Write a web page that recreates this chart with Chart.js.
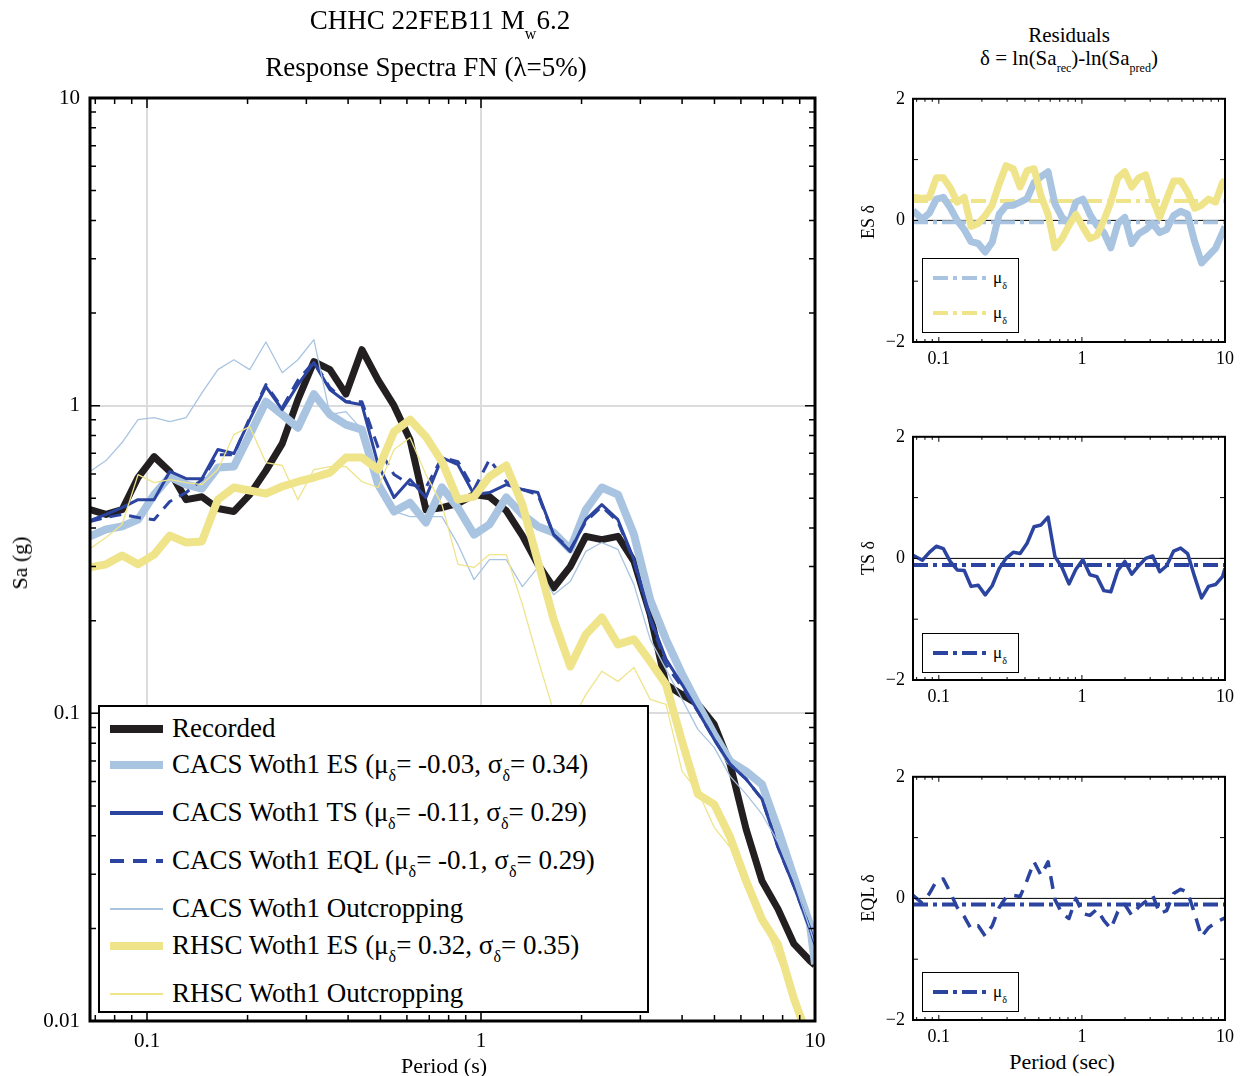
<!DOCTYPE html>
<html><head><meta charset="utf-8">
<script src="https://cdn.jsdelivr.net/npm/chart.js@4.4.1/dist/chart.umd.min.js"></script>
<style>
html,body{margin:0;padding:0;background:#fff;}
body{width:1242px;height:1076px;position:relative;overflow:hidden;font-family:'Liberation Serif','Times New Roman',serif;color:#000;}
.t{position:absolute;white-space:nowrap;line-height:1;}
.c{transform:translateX(-50%);}
.r{transform:translate(-50%,-50%) rotate(-90deg);}
.sb{position:relative;}
canvas{position:absolute;}
.box{position:absolute;box-sizing:border-box;background:#fff;}
.sw{position:absolute;}
</style></head>
<body>
<canvas id="main" width="840" height="1076" style="left:0;top:0"></canvas>
<canvas id="r1" width="400" height="290" style="left:840px;top:80px"></canvas>
<canvas id="r2" width="400" height="290" style="left:840px;top:418px"></canvas>
<canvas id="r3" width="400" height="290" style="left:840px;top:758px"></canvas>
<div id="overlay"></div>
<script>
// ---------------- DATA ----------------
const periods = [0.0675,0.0754,0.0842,0.094,0.105,0.117,0.131,0.146,0.163,0.182,0.203,0.227,0.254,0.283,0.316,0.353,0.394,0.44,0.492,0.549,0.613,0.684,0.764,0.853,0.953,1.06,1.19,1.33,1.48,1.65,1.85,2.06,2.30,2.57,2.87,3.21,3.58,4.00,4.46,4.99,5.57,6.22,6.94,7.75,8.65,9.66,10.0];
const recorded = [0.459,0.443,0.459,0.584,0.683,0.611,0.495,0.506,0.463,0.453,0.514,0.615,0.753,1.046,1.39,1.31,1.09,1.52,1.21,1.0,0.775,0.459,0.466,0.481,0.514,0.506,0.456,0.378,0.305,0.256,0.300,0.376,0.367,0.376,0.312,0.210,0.124,0.115,0.107,0.0921,0.0683,0.0420,0.0285,0.0231,0.0178,0.0157,0.0152];
const cacsES = [0.376,0.396,0.405,0.426,0.514,0.588,0.554,0.538,0.629,0.634,0.805,1.03,0.935,0.848,1.09,0.935,0.868,0.836,0.554,0.453,0.484,0.417,0.542,0.466,0.381,0.411,0.503,0.443,0.405,0.387,0.341,0.459,0.542,0.514,0.381,0.234,0.174,0.134,0.107,0.0855,0.0698,0.0648,0.0588,0.0420,0.0293,0.0206,0.0153];
const cacsTS = [0.423,0.443,0.466,0.495,0.495,0.611,0.579,0.579,0.720,0.699,0.901,1.153,0.971,1.17,1.38,1.127,1.03,1.007,0.643,0.503,0.575,0.503,0.678,0.643,0.514,0.522,0.554,0.534,0.522,0.381,0.336,0.426,0.477,0.426,0.316,0.205,0.150,0.124,0.1015,0.0823,0.0683,0.0611,0.0526,0.0367,0.0274,0.0199,0.0178];
const cacsEQL = [0.420,0.433,0.443,0.433,0.426,0.488,0.522,0.575,0.693,0.693,0.914,1.17,0.985,1.21,1.39,1.144,1.03,1.03,0.731,0.597,0.554,0.542,0.678,0.658,0.534,0.668,0.566,0.534,0.514,0.381,0.341,0.420,0.470,0.420,0.312,0.202,0.144,0.1215,0.1015,0.0823,0.0683,0.0611,0.0526,0.0367,0.0274,0.0199,0.0178];
const cacsOut = [0.611,0.663,0.759,0.901,0.914,0.887,0.914,1.10,1.31,1.41,1.31,1.61,1.28,1.41,1.64,0.935,0.956,0.836,0.534,0.453,0.436,0.436,0.436,0.354,0.272,0.316,0.316,0.258,0.298,0.243,0.268,0.336,0.359,0.341,0.262,0.174,0.139,0.111,0.0887,0.0775,0.0624,0.0546,0.0470,0.0381,0.0285,0.0199,0.0178];
const rhscES = [0.298,0.305,0.326,0.305,0.328,0.378,0.359,0.362,0.495,0.542,0.530,0.518,0.546,0.566,0.584,0.606,0.678,0.678,0.620,0.823,0.901,0.793,0.658,0.495,0.506,0.588,0.639,0.477,0.312,0.202,0.142,0.1805,0.205,0.1675,0.174,0.1475,0.124,0.081,0.0546,0.0506,0.0396,0.0285,0.0214,0.0177,0.0118,0.0085,null];
const rhscOut = [0.343,0.373,0.411,0.597,0.562,0.575,0.562,0.554,0.620,0.805,0.855,0.653,0.639,0.495,0.620,0.634,0.634,0.566,0.542,0.720,0.787,0.597,0.477,0.305,0.298,0.328,0.328,0.226,0.150,0.1015,0.0921,0.115,0.137,0.127,0.141,0.111,0.107,0.0648,0.0558,0.0426,0.0367,0.0268,0.0218,0.0159,0.0122,0.0085,null];

const residPeriods = [0.066,0.0767,0.0859,0.096,0.1075,0.120,0.1345,0.1506,0.168,0.1885,0.211,0.236,0.264,0.295,0.331,0.370,0.414,0.463,0.518,0.580,0.648,0.726,0.812,0.908,1.016,1.137,1.272,1.423,1.592,1.782,1.994,2.231,2.496,2.793,3.125,3.496,3.911,4.377,4.897,5.479,6.131,6.859,7.674,8.587,9.607,10.0];
const residCacsES = [0.16,0.02,0.12,0.35,0.38,0.21,0.0,-0.15,-0.35,-0.38,-0.52,-0.36,0.1,0.24,0.25,0.3,0.36,0.62,0.72,0.8,0.27,0.05,-0.05,0.3,0.35,0.1,-0.08,-0.2,-0.45,-0.05,0.05,-0.38,-0.22,-0.15,-0.05,-0.2,-0.15,0.08,0.15,0.1,-0.35,-0.7,-0.58,-0.46,-0.2,-0.1];
const residRhscES = [0.38,0.36,0.38,0.7,0.7,0.54,0.3,0.38,-0.1,-0.05,0.08,0.25,0.6,0.9,0.85,0.55,0.82,0.85,0.4,0.1,-0.45,-0.3,-0.08,0.1,-0.11,-0.3,-0.25,0.0,0.3,0.7,0.8,0.55,0.7,0.75,0.35,0.05,0.35,0.65,0.65,0.47,0.2,0.25,0.35,0.3,0.62,0.66];
const residCacsTS = [0.05,-0.03,0.1,0.2,0.16,-0.05,-0.19,-0.2,-0.46,-0.44,-0.6,-0.45,-0.17,0.0,0.1,0.08,0.25,0.52,0.55,0.68,0.03,-0.15,-0.42,-0.18,-0.02,-0.27,-0.3,-0.53,-0.55,-0.2,-0.05,-0.26,-0.12,0.0,0.04,-0.22,-0.12,0.12,0.17,0.08,-0.3,-0.65,-0.46,-0.43,-0.3,-0.16];
const residCacsEQL = [0.05,-0.08,0.08,0.28,0.32,0.1,-0.15,-0.3,-0.5,-0.45,-0.62,-0.45,-0.15,0.02,0.05,0.03,0.3,0.6,0.38,0.6,-0.02,-0.25,-0.33,0.0,-0.25,-0.28,-0.18,-0.36,-0.5,-0.22,-0.1,-0.28,-0.14,-0.05,0.05,-0.25,-0.2,0.08,0.15,0.1,-0.25,-0.63,-0.48,-0.4,-0.34,-0.32];
const meanCacsES = -0.03, meanRhscES = 0.32, meanCacsTS = -0.11, meanCacsEQL = -0.1;

const mainXTicks = [0.1, 1, 10];
const mainYTicks = [0.01, 0.1, 1, 10];
const residXTicks = [0.1, 1, 10];
const residYTicks = [-2, 0, 2];

// ---------------- STYLE ----------------
const BLACK = '#231F20', LBLUE = '#A9C4E1', DBLUE = '#2B44A0', YELLOW = '#EFE48A';
const FONT = "'Liberation Serif','Times New Roman',serif";

function pts(xs, ys){ return xs.map((x,i)=>({x:x, y:ys[i]})); }
function flat(xmin, xmax, v){ return [{x:xmin,y:v},{x:xmax,y:v}]; }
function minors(lo, hi){
  const out=[]; for(let d=0.001; d<hi; d*=10){ for(let k=2;k<=9;k++){ const v=+(k*d).toPrecision(3); if(v>lo && v<hi) out.push(v);} } return out;
}
function boxPlugin(cfg){
  return { id:'box'+Math.random().toString(36).slice(2),
    afterDatasetsDraw(chart){
      const {ctx, chartArea:a} = chart; const xs=chart.scales.x, ys=chart.scales.y;
      ctx.save(); ctx.strokeStyle='#000'; ctx.lineWidth=cfg.tickW; ctx.beginPath();
      const vx=(vals,len)=>vals.forEach(v=>{ if(v<=xs.min||v>=xs.max) return; const p=xs.getPixelForValue(v);
        ctx.moveTo(p,a.bottom); ctx.lineTo(p,a.bottom-len); ctx.moveTo(p,a.top); ctx.lineTo(p,a.top+len); });
      const vy=(vals,len)=>vals.forEach(v=>{ if(v<=ys.min||v>=ys.max) return; const p=ys.getPixelForValue(v);
        ctx.moveTo(a.left,p); ctx.lineTo(a.left+len,p); ctx.moveTo(a.right,p); ctx.lineTo(a.right-len,p); });
      vx(cfg.xMinor, cfg.minorLen); vx(cfg.xMajor, cfg.majorLen);
      vy(cfg.yMinor, cfg.minorLen); vy(cfg.yMajor, cfg.majorLen);
      ctx.stroke();
      ctx.lineWidth=cfg.frameW; ctx.strokeRect(a.left,a.top,a.right-a.left,a.bottom-a.top);
      ctx.restore();
    }};
}
function line(data, color, width, extra){ return Object.assign({data, borderColor:color, backgroundColor:color, borderWidth:width, pointRadius:0, tension:0, fill:false, borderJoinStyle:'round', clip:0, spanGaps:false}, extra||{}); }

// ---------------- MAIN CHART ----------------
new Chart(document.getElementById('main'), {
  type:'line',
  data:{datasets:[
    line(pts(periods, recorded), BLACK, 7, {order:7}),
    line(pts(periods, cacsES), LBLUE, 8, {order:6}),
    line(pts(periods, cacsTS), DBLUE, 3, {order:5}),
    line(pts(periods, cacsEQL), DBLUE, 3, {order:4, borderDash:[12,8]}),
    line(pts(periods, cacsOut), LBLUE, 1.3, {order:3}),
    line(pts(periods, rhscES), YELLOW, 8, {order:2}),
    line(pts(periods, rhscOut), YELLOW, 1.3, {order:1})
  ]},
  options:{
    responsive:false, animation:false, devicePixelRatio:1,
    layout:{padding:{left:0, top:98, right:25, bottom:0}},
    plugins:{legend:{display:false}, tooltip:{enabled:false}, title:{display:false}},
    scales:{
      x:{type:'logarithmic', min:0.0675, max:10,
         afterFit:s=>{s.height=55;}, afterBuildTicks:s=>{s.ticks=mainXTicks.map(v=>({value:v}));},
         ticks:{callback:v=>String(v), font:{family:FONT,size:21}, color:'#000', padding:8, maxRotation:0, autoSkip:false},
         grid:{drawTicks:false, lineWidth:2, color:c=>(c.tick && (c.tick.value===0.1||c.tick.value===1))?'#dcdcdc':'rgba(0,0,0,0)'},
         border:{display:false}},
      y:{type:'logarithmic', min:0.01, max:10,
         afterFit:s=>{s.width=90;}, afterBuildTicks:s=>{s.ticks=mainYTicks.map(v=>({value:v}));},
         ticks:{callback:v=>String(v), font:{family:FONT,size:21}, color:'#000', padding:10, autoSkip:false},
         grid:{drawTicks:false, lineWidth:2, color:c=>(c.tick && (c.tick.value===0.1||c.tick.value===1))?'#dcdcdc':'rgba(0,0,0,0)'},
         border:{display:false}}
    }
  },
  plugins:[boxPlugin({xMinor:minors(0.0675,10), xMajor:mainXTicks, yMinor:minors(0.01,10), yMajor:mainYTicks, minorLen:6, majorLen:10, tickW:1.5, frameW:3})]
});

// ---------------- RESIDUAL CHARTS ----------------
const RX0 = 0.066, RX1 = 10;
function residChart(id, datasets){
  new Chart(document.getElementById(id), {
    type:'line', data:{datasets},
    options:{
      responsive:false, animation:false, devicePixelRatio:1,
      layout:{padding:{left:0, top:18, right:14, bottom:0}},
      plugins:{legend:{display:false}, tooltip:{enabled:false}},
      scales:{
        x:{type:'logarithmic', min:RX0, max:RX1, afterFit:s=>{s.height=28;},
           afterBuildTicks:s=>{s.ticks=residXTicks.map(v=>({value:v}));},
           ticks:{callback:v=>String(v), font:{family:FONT,size:18}, color:'#000', padding:6, maxRotation:0, autoSkip:false},
           grid:{display:false, drawTicks:false}, border:{display:false}},
        y:{type:'linear', min:-2, max:2, afterFit:s=>{s.width=73;},
           afterBuildTicks:s=>{s.ticks=residYTicks.map(v=>({value:v}));},
           ticks:{callback:v=>v<0?'\u2212'+(-v):String(v), font:{family:FONT,size:18}, color:'#000', padding:8, autoSkip:false},
           grid:{display:false, drawTicks:false}, border:{display:false}}
      }
    },
    plugins:[boxPlugin({xMinor:minors(RX0,RX1), xMajor:residXTicks, yMinor:[], yMajor:[-1,0,1], minorLen:3, majorLen:5, tickW:1, frameW:2})]
  });
}
const DASHDOT = [15,5,4,5];
residChart('r1', [
  line(flat(RX0,RX1,0), '#000', 1, {order:9}),
  line(flat(RX0,RX1,meanCacsES), LBLUE, 4, {order:8, borderDash:DASHDOT}),
  line(flat(RX0,RX1,meanRhscES), YELLOW, 4, {order:7, borderDash:DASHDOT}),
  line(pts(residPeriods, residCacsES), LBLUE, 7, {order:2}),
  line(pts(residPeriods, residRhscES), YELLOW, 7, {order:1})
]);
residChart('r2', [
  line(flat(RX0,RX1,0), '#000', 1, {order:9}),
  line(flat(RX0,RX1,meanCacsTS), DBLUE, 4, {order:8, borderDash:DASHDOT}),
  line(pts(residPeriods, residCacsTS), DBLUE, 3.5, {order:1})
]);
residChart('r3', [
  line(flat(RX0,RX1,0), '#000', 1, {order:9}),
  line(flat(RX0,RX1,meanCacsEQL), DBLUE, 4, {order:8, borderDash:DASHDOT}),
  line(pts(residPeriods, residCacsEQL), DBLUE, 3.5, {order:1, borderDash:[13,9]})
]);

// ---------------- TEXT & LEGENDS (HTML) ----------------
const ov = document.getElementById('overlay');
function add(html){ ov.insertAdjacentHTML('beforeend', html); }
const sub = (t,fs,dy)=>`<span class="sb" style="font-size:${fs}px;top:${dy}px">${t}</span>`;

add(`<div class="t c" style="left:440px;top:7px;font-size:27px">CHHC 22FEB11 M${sub('w',16,10)}6.2</div>`);
add(`<div class="t c" style="left:426px;top:54px;font-size:27px">Response Spectra FN (\u03bb=5%)</div>`);
add(`<div class="t r" style="left:20px;top:563px;font-size:22px">Sa (g)</div>`);
add(`<div class="t c" style="left:444px;top:1055px;font-size:22px">Period (s)</div>`);

add(`<div class="t c" style="left:1069px;top:25px;font-size:21px">Residuals</div>`);
add(`<div class="t c" style="left:1069px;top:48px;font-size:21px">\u03b4 = ln(Sa${sub('rec',12,7)})-ln(Sa${sub('pred',12,7)})</div>`);
add(`<div class="t r" style="left:868px;top:222px;font-size:18px">ES \u03b4</div>`);
add(`<div class="t r" style="left:868px;top:558px;font-size:18px">TS \u03b4</div>`);
add(`<div class="t r" style="left:868px;top:898px;font-size:18px">EQL \u03b4</div>`);
add(`<div class="t c" style="left:1062px;top:1051px;font-size:22px">Period (sec)</div>`);

// main legend
add(`<div class="box" style="left:98px;top:705px;width:551px;height:308px;border:2px solid #000"></div>`);
const mu = (m,s)=>`(\u03bc${sub('\u03b4',16,8)}= ${m}, \u03c3${sub('\u03b4',16,8)}= ${s})`;
const legendItems = [
  {text:'Recorded', color:BLACK, w:8, dash:false, cy:728},
  {text:'CACS Woth1 ES '+mu('-0.03','0.34'), color:LBLUE, w:8, dash:false, cy:764},
  {text:'CACS Woth1 TS '+mu('-0.11','0.29'), color:DBLUE, w:3.5, dash:false, cy:812},
  {text:'CACS Woth1 EQL '+mu('-0.1','0.29'), color:DBLUE, w:3.5, dash:true, cy:860},
  {text:'CACS Woth1 Outcropping', color:LBLUE, w:1.5, dash:false, cy:908},
  {text:'RHSC Woth1 ES '+mu('0.32','0.35'), color:YELLOW, w:8, dash:false, cy:945},
  {text:'RHSC Woth1 Outcropping', color:YELLOW, w:1.5, dash:false, cy:993}
];
legendItems.forEach(it=>{
  const bg = it.dash ? `repeating-linear-gradient(to right, ${it.color} 0 14px, transparent 14px 23px)` : it.color;
  add(`<div class="sw" style="left:110px;width:53px;top:${it.cy+1-it.w/2}px;height:${it.w}px;background:${bg}"></div>`);
  add(`<div class="t" style="left:172px;top:${it.cy-13.5}px;font-size:27px">${it.text}</div>`);
});

// residual legends
const ddbg = c=>`repeating-linear-gradient(to right, ${c} 0 15px, transparent 15px 20px, ${c} 20px 24px, transparent 24px 29px)`;
function rlegend(top, h, entries){
  add(`<div class="box" style="left:922px;top:${top}px;width:97px;height:${h}px;border:1.5px solid #000"></div>`);
  entries.forEach(e=>{
    add(`<div class="sw" style="left:933px;width:53px;top:${e.cy-2}px;height:4px;background:${ddbg(e.color)}"></div>`);
    add(`<div class="t" style="left:993px;top:${e.cy-9}px;font-size:17px">\u03bc${sub('\u03b4',10,6)}</div>`);
  });
}
rlegend(258, 75, [{color:LBLUE, cy:278},{color:YELLOW, cy:313}]);
rlegend(633, 40, [{color:DBLUE, cy:653}]);
rlegend(972, 40, [{color:DBLUE, cy:992}]);
</script>
</body></html>
